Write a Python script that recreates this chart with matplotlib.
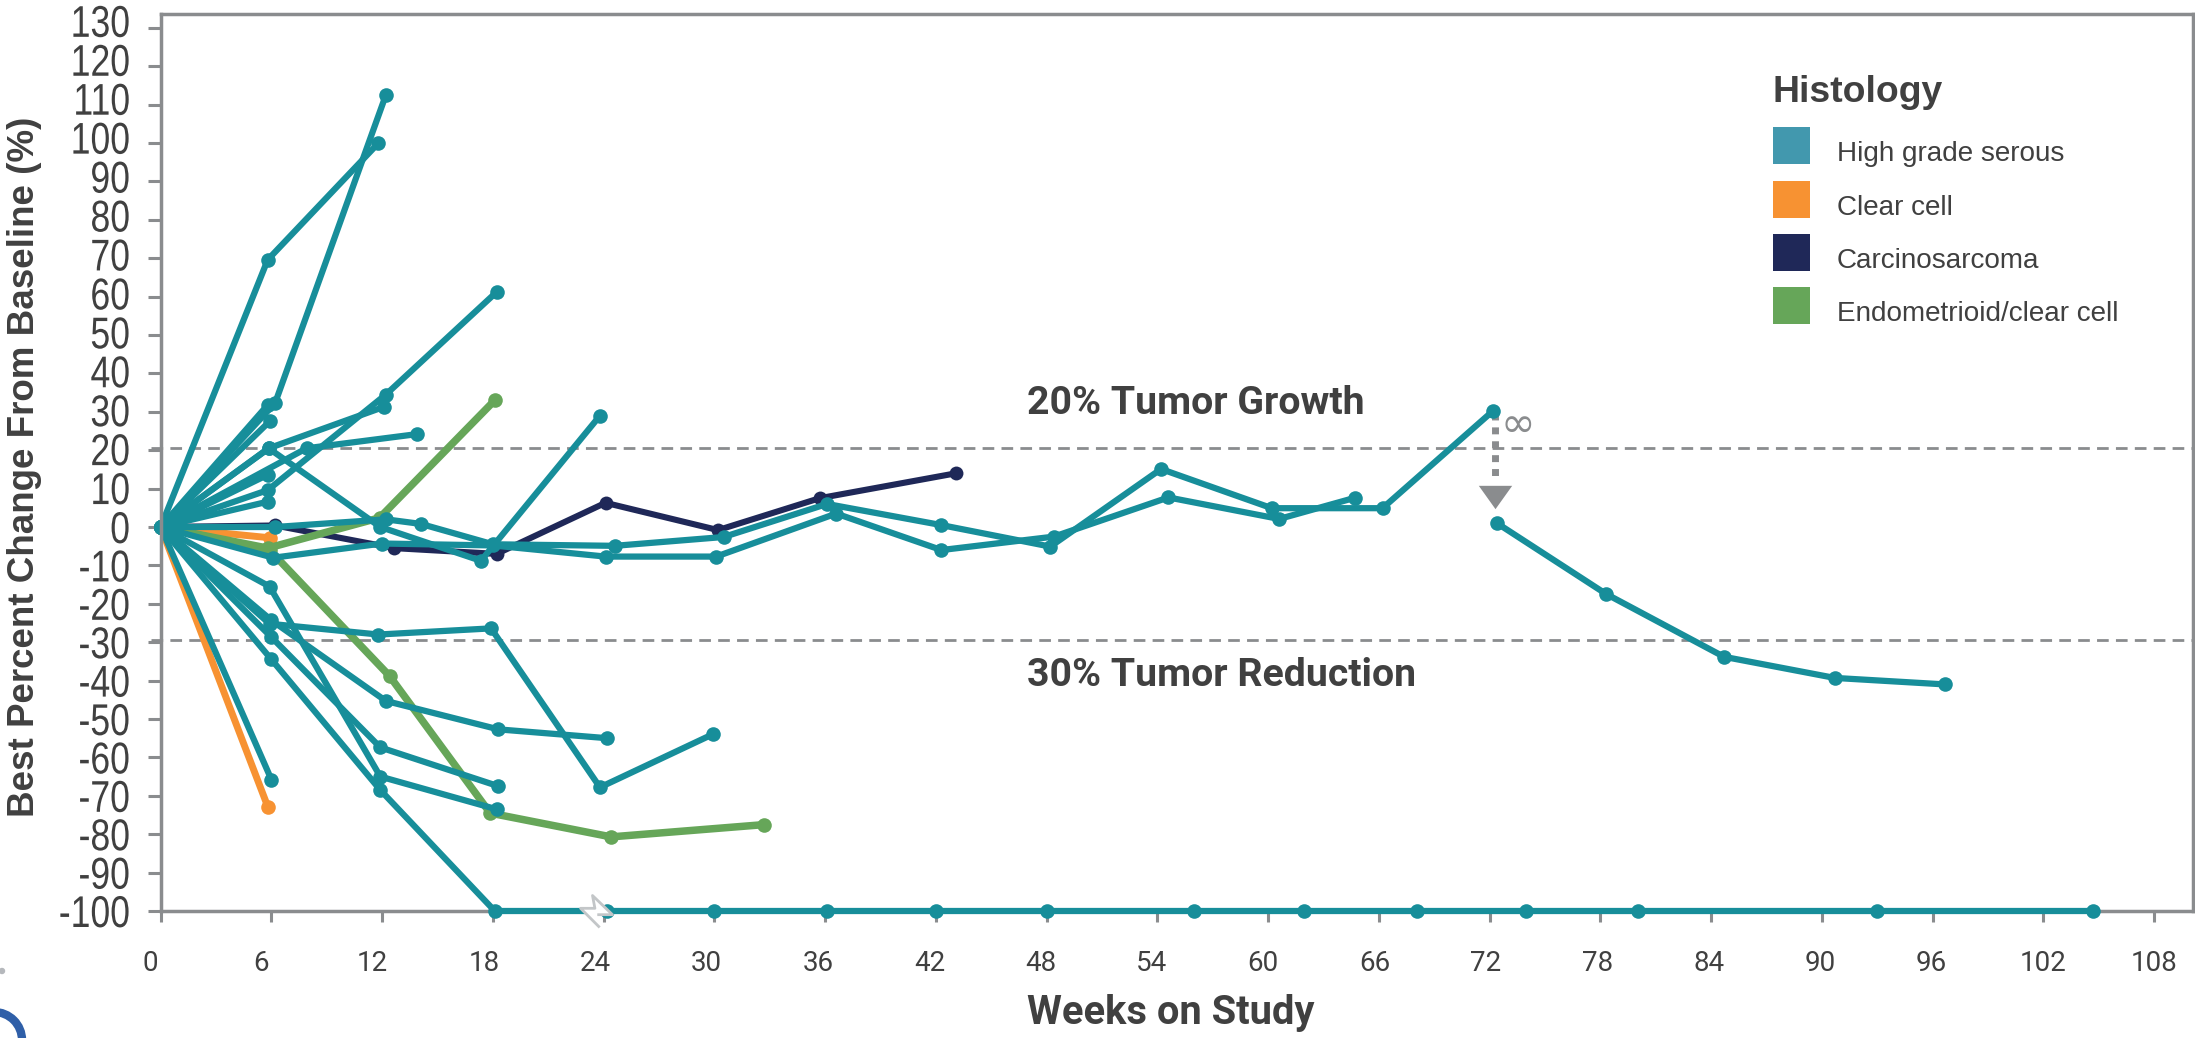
import matplotlib
matplotlib.use("Agg")
import matplotlib.pyplot as plt
from matplotlib.patches import Arc, Circle, Rectangle
from matplotlib.patheffects import AbstractPathEffect
from matplotlib.transforms import Affine2D, IdentityTransform, ScaledTranslation

W, H = 2195, 1038
DPI = 100

# 数据
HGS_WEEKS = [
    [0, 5.8, 11.8],
    [0, 6.2, 12.2],
    [0, 5.8],
    [0, 5.9],
    [0, 5.85, 12.1],
    [0, 5.85, 11.9, 17.35, 23.8],
    [0, 7.9, 13.9],
    [0, 5.8],
    [0, 5.8, 12.2, 18.2],
    [0, 5.8],
    [0, 6.2, 12.2, 14.1, 18.0, 24.6, 30.5, 36.1, 42.3, 48.2, 54.2, 60.2, 66.2, 72.2],
    [0, 6.1, 12.0, 18.0, 24.1, 30.1, 36.6, 42.3, 48.4, 54.6, 60.6, 64.7],
    [72.4, 78.3, 84.7, 90.7, 96.7],
    [0, 6.0],
    [0, 5.9, 11.9, 18.2],
    [0, 6.0, 12.2, 18.3, 24.2],
    [0, 5.9, 11.8, 17.9, 23.8, 29.9],
    [0, 6.0, 11.9, 18.3],
    [0, 6.0, 11.9, 18.1, 24.2, 30.0, 36.1, 42.0, 48.0, 56.0, 61.95, 68.05, 74.0, 80.05, 93.0, 104.7],
]
HGS_CHANGE = [
    [0, 69.6, 100],
    [0, 32.3, 112.5],
    [0, 31.8],
    [0, 27.5],
    [0, 20.5, 31.3],
    [0, 20.5, 0, -8.8, 29],
    [0, 20.5, 24.2],
    [0, 13.6],
    [0, 9.6, 34.5, 61.2],
    [0, 6.6],
    [0, 0, 2, 0.8, -4.5, -4.9, -2.6, 6, 0.5, -5.1, 15.1, 4.9, 4.9, 30.3],
    [0, -8, -4.3, -4.8, -7.7, -7.7, 3.5, -6, -2.5, 7.7, 2.1, 7.6],
    [1, -17.4, -33.8, -39.3, -41],
    [0, -65.8],
    [0, -15.5, -65, -73.5],
    [0, -24.3, -45.3, -52.7, -55],
    [0, -25.2, -28, -26.4, -67.8, -54],
    [0, -28.7, -57.4, -67.5],
    [0, -34.5, -68.5, -100, -100, -100, -100, -100, -100, -100, -100, -100, -100, -100, -100, -100],
]
CLEAR_WEEKS = [[0, 5.9], [0, 5.8]]
CLEAR_CHANGE = [[0, -2.8], [0, -72.8]]
CARCINO_WEEKS = [0, 6.2, 12.65, 18.2, 24.1, 30.2, 35.7, 43.1]
CARCINO_CHANGE = [0, 0.4, -5.5, -7, 6.3, -0.8, 7.5, 14]
ENDO_WEEKS = [[0, 5.8, 11.86, 18.1], [0, 5.9, 12.4, 17.85, 24.4, 32.7]]
ENDO_CHANGE = [[0, -5.5, 2.4, 33], [0, -6, -38.8, -74.5, -80.7, -77.5]]

GROWTH_LEVEL = 20.7
REDUCTION_LEVEL = -29.5
ARROW_WEEK = 72.3
ARROW_CHANGE = [29.7, 12.2]
ARROW_HEAD = 7.7
BOLT_WEEK = 23.6
BOLT_CHANGE = -100

LEGEND_NAMES = ["High grade serous", "Clear cell", "Carcinosarcoma", "Endometrioid/clear cell"]
X_TICKS = list(range(0, 109, 6))
Y_TICKS = list(range(-100, 131, 10))

# 样式
TEAL = "#178E9A"
ORANGE = "#F79232"
NAVY = "#1F2858"
GREEN = "#66A659"
SWATCH = ["#4298AE", ORANGE, NAVY, GREEN]
GRAY = "#8A8C8E"
TEXT = "#404040"
Y_LABEL_RIGHT = 130  # y 标签右边缘（像素）


class Squeeze(AbstractPathEffect):
    """把文字沿 x 方向压窄，原图的 y 标签是窄体字"""

    def __init__(self, anchor_x, factor):
        super().__init__()
        self.anchor_x = anchor_x
        self.factor = factor

    def draw_path(self, renderer, gc, tpath, affine, rgbFace=None):
        squeeze = Affine2D().translate(-self.anchor_x, 0).scale(self.factor, 1).translate(self.anchor_x, 0)
        super().draw_path(renderer, gc, tpath, affine + squeeze, rgbFace)


def fx(px):
    return px / W


def fy(py):
    return 1 - py / H


def draw_lines(ax, weeks, change, color, lw, ms, zorder):
    ax.plot(weeks, change, color=color, linewidth=lw, marker="o", markersize=ms,
            markeredgewidth=0, solid_joinstyle="round", clip_on=False, zorder=zorder)


fig = plt.figure(figsize=(W / DPI, H / DPI), dpi=DPI)
ax = fig.add_axes([fx(160.7), fy(911), fx(2193 - 160.7), (911 - 14) / H])
ax.set_xlim(0, (2193 - 160.7) / 110.74 * 6)
ax.set_ylim(-100, 133.6)

for side, spine in ax.spines.items():
    spine.set_color(GRAY)
    spine.set_linewidth(2.5)
ax.spines["left"].set_zorder(8)
ax.spines["bottom"].set_zorder(1)

# 参考线
for level in (GROWTH_LEVEL, REDUCTION_LEVEL):
    ax.plot([-0.5, ax.get_xlim()[1]], [level, level], color=GRAY, linewidth=2.0,
            dashes=(4.2, 2.6), clip_on=False, zorder=2)

# 折线
for w, c in zip(CLEAR_WEEKS, CLEAR_CHANGE):
    draw_lines(ax, w, c, ORANGE, 5.0, 10.5, 3)
draw_lines(ax, CARCINO_WEEKS, CARCINO_CHANGE, NAVY, 4.4, 10, 4)
for w, c in zip(ENDO_WEEKS, ENDO_CHANGE):
    draw_lines(ax, w, c, GREEN, 5.4, 10.5, 5)
for w, c in zip(HGS_WEEKS, HGS_CHANGE):
    draw_lines(ax, w, c, TEAL, 4.5, 10.5, 6)

# 无穷箭头
ax.plot([ARROW_WEEK, ARROW_WEEK], ARROW_CHANGE, color=GRAY, linewidth=5, dashes=(1, 1), zorder=5)
ax.plot([ARROW_WEEK], [ARROW_HEAD], linestyle="none", color=GRAY, markersize=24, markeredgewidth=0,
        marker=[(-1, 0.7), (1, 0.7), (0, -0.7)], zorder=5)
ax.text(ARROW_WEEK + 1.25, 26.5, "∞", color=GRAY, fontsize=30, ha="center", va="center",
        family="DejaVu Sans")

# 闪电图标
bolt = [(0.2, -1), (-1, 0.2), (-0.1, 0.2), (-0.25, 1), (1, -0.2), (0.05, -0.2)]
ax.plot([BOLT_WEEK], [BOLT_CHANGE], linestyle="none", marker=bolt, markersize=23,
        markerfacecolor="white", markeredgecolor="#C3C6C8", markeredgewidth=2,
        clip_on=False, zorder=7)

# 坐标轴
ax.set_xticks(X_TICKS)
ax.set_yticks(Y_TICKS)
ax.set_yticklabels([str(v) for v in Y_TICKS])
ax.tick_params(axis="y", length=9.5, width=2.2, color=GRAY, pad=12.6, labelsize=32, labelcolor=TEXT)
ax.tick_params(axis="x", length=8, width=2.2, color=GRAY, pad=20, labelsize=20, labelcolor=TEXT)
# y 标签上半部分略高于刻度
for v, lab in zip(Y_TICKS, ax.get_yticklabels()):
    lab.set_family("Liberation Sans")
    lab.set_path_effects([Squeeze(Y_LABEL_RIGHT, 0.8)])
    dy = 7 * max(v, 0) / 130 / DPI
    lab.set_transform(lab.get_transform() + ScaledTranslation(0, dy, fig.dpi_scale_trans))
# x 标签的间距比刻度略大，逐个平移
for i, lab in enumerate(ax.get_xticklabels()):
    lab.set_family("Roboto")
    dx = (-10.7 + i / 18 * 10.7) / DPI
    lab.set_transform(lab.get_transform() + ScaledTranslation(dx, 0, fig.dpi_scale_trans))

# 文字
fig.text(fx(25), fy(467), "Best Percent Change From Baseline (%)", rotation=90, ha="center", va="center",
         color=TEXT, fontsize=26.5, weight="bold", family="Liberation Sans")
fig.text(fx(1171), fy(1013), "Weeks on Study", ha="center", va="center", color=TEXT,
         fontsize=28.7, weight="bold", family="Roboto")
fig.text(fx(1027), fy(403), "20% Tumor Growth", ha="left", va="center", color=TEXT,
         fontsize=28.3, weight="bold", family="Roboto")
fig.text(fx(1027), fy(676), "30% Tumor Reduction", ha="left", va="center", color=TEXT,
         fontsize=28.3, weight="bold", family="Roboto")

# 图例
fig.text(fx(1773), fy(93), "Histology", ha="left", va="center", color=TEXT, fontsize=26.9,
         weight="bold", family="Liberation Sans")
for i, name in enumerate(LEGEND_NAMES):
    top = [127, 181, 234, 287][i]
    fig.add_artist(Rectangle((fx(1773), fy(top + 36.5)), 37 / W, 36.5 / H, transform=fig.transFigure,
                             facecolor=SWATCH[i], edgecolor="none"))
    fig.text(fx(1837), fy(top + 27), name, ha="left", va="center", color=TEXT, fontsize=20.1,
             family="Liberation Sans")

# 左下角裁切掉的标志
fig.add_artist(Arc((-6, H - 1040), 56, 56, theta1=-90, theta2=90, color="#2F5FA8", linewidth=6,
                   transform=IdentityTransform()))
fig.add_artist(Circle((2, H - 971), 2.5, color="#B5B8BC", transform=IdentityTransform()))

fig.savefig("out.png", dpi=DPI)
